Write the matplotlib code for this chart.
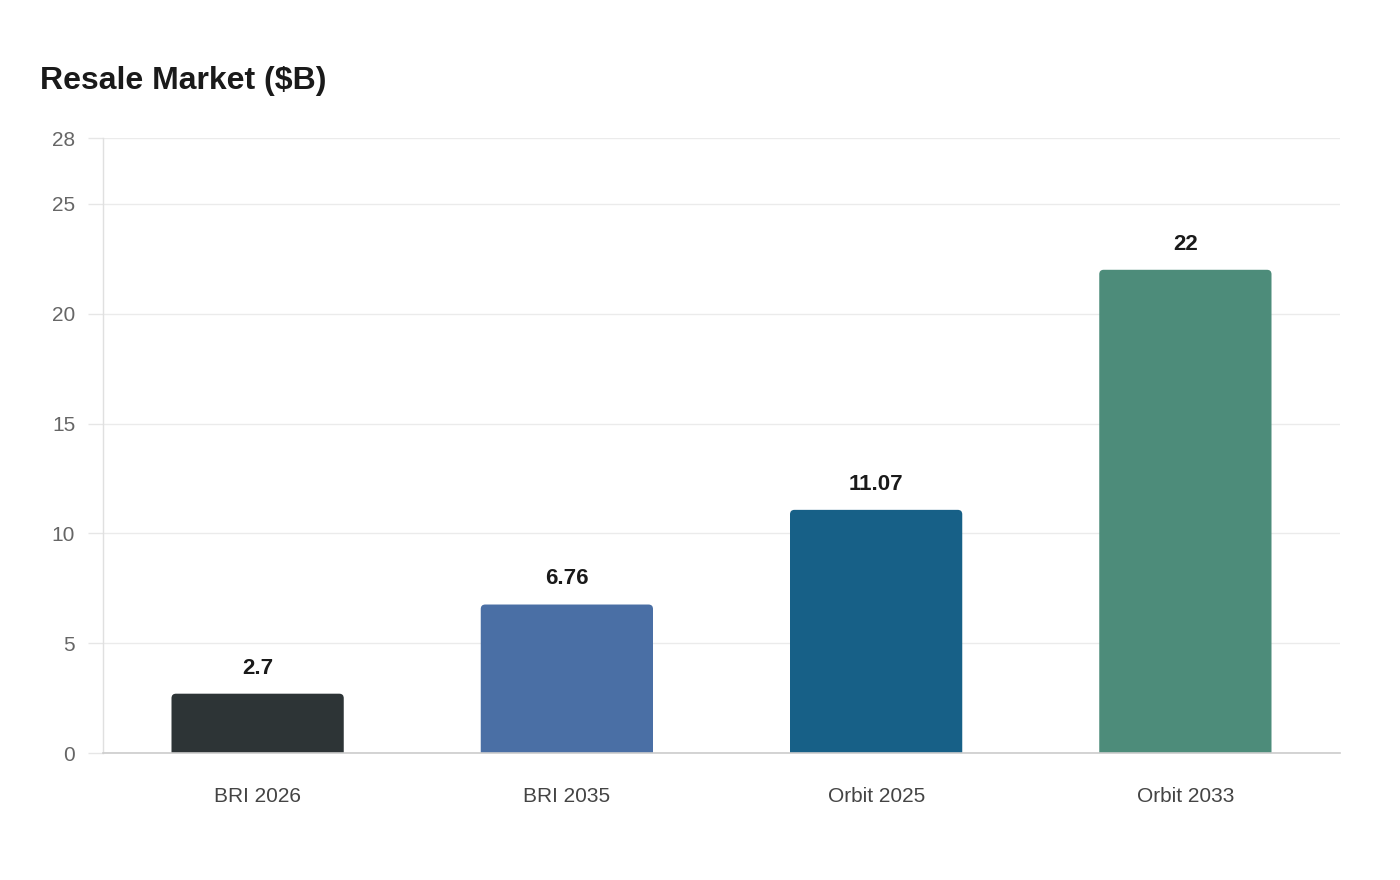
import matplotlib
matplotlib.use("Agg")
import matplotlib.pyplot as plt
from matplotlib.patches import PathPatch
from matplotlib.path import Path

plt.rcParams['font.family'] = ['Liberation Sans', 'DejaVu Sans']

categories = ["BRI 2026", "BRI 2035", "Orbit 2025", "Orbit 2033"]
values = [2.7, 6.76, 11.07, 22]
labels = ["2.7", "6.76", "11.07", "22"]
colors = ["#2d3436", "#4a6fa5", "#176087", "#4d8c7a"]
yticks = [0, 5, 10, 15, 20, 25, 28]

W, H = 1400, 880
fig = plt.figure(figsize=(W/100, H/100), dpi=100)
ax = fig.add_axes([103/W, 1-753/H, (1340-103)/W, (753-138)/H])
ax.set_xlim(-0.5, len(categories)-0.5)
ax.set_ylim(0, 28)

bw = 0.557
px_x = (1340-103)/len(categories)
px_y = (753-138)/28
r_px = 4.5
rx = r_px/px_x
ry = r_px/px_y


def top_rounded_bar(xc, h):
    x0, x1 = xc - bw/2, xc + bw/2
    verts = [(x0, 0), (x0, h-ry), (x0, h), (x0+rx, h), (x1-rx, h),
             (x1, h), (x1, h-ry), (x1, 0), (x0, 0)]
    codes = [Path.MOVETO, Path.LINETO, Path.CURVE3, Path.CURVE3, Path.LINETO,
             Path.CURVE3, Path.CURVE3, Path.LINETO, Path.CLOSEPOLY]
    return Path(verts, codes)


for i, (v, c) in enumerate(zip(values, colors)):
    ax.add_patch(PathPatch(top_rounded_bar(i, v), fc=c, ec='none', zorder=3))
    ax.annotate(labels[i], (i, v), xytext=(0, 14.5), textcoords='offset points',
                ha='center', va='baseline', fontsize=16, fontweight='bold',
                color='#1a1a1a', zorder=4)

ax.set_xticks(range(len(categories)))
ax.set_xticklabels(categories)
ax.set_yticks(yticks)
ax.tick_params(axis='x', length=0, pad=24.5, labelsize=15, labelcolor='#444444')
ax.tick_params(axis='y', length=11, width=1, color='#e6e6e6', pad=9,
               labelsize=15, labelcolor='#666666')
ax.grid(axis='y', color='#ebebeb', linewidth=1, zorder=0)
ax.set_axisbelow(True)
for s in ['top', 'right']:
    ax.spines[s].set_visible(False)
ax.spines['left'].set_color('#e0e0e0')
ax.spines['left'].set_linewidth(1)
ax.spines['bottom'].set_color('#cccccc')
ax.spines['bottom'].set_linewidth(1.2)
ax.spines['bottom'].set_zorder(5)

fig.text(40/W, 1-81/H, "Resale Market ($B)", fontsize=23, fontweight='bold',
         color='#1a1a1a', ha='left', va='center')

fig.savefig("out.png", dpi=100, facecolor='white')
